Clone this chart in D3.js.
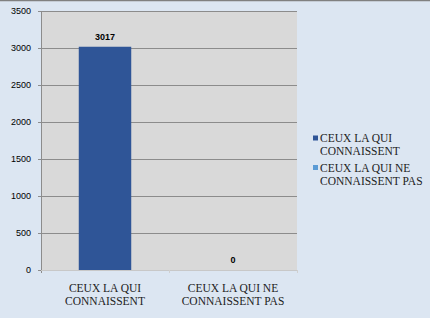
<!DOCTYPE html>
<html>
<head>
<meta charset="utf-8">
<script src="https://cdn.jsdelivr.net/npm/d3@7"></script>
<style>
  body { margin: 0; background: #dce6f2; }
  svg { display: block; }
</style>
</head>
<body>
<div id="chart"></div>
<script>
const categories = ["CEUX LA QUI|CONNAISSENT", "CEUX LA QUI NE|CONNAISSENT PAS"];
const values = [3017, 0];
const legendLabels = ["CEUX LA QUI|CONNAISSENT", "CEUX LA QUI NE|CONNAISSENT PAS"];
const legendColors = ["#2f5597", "#5b9bd5"];
const yTicks = [0, 500, 1000, 1500, 2000, 2500, 3000, 3500];

const serif = "'Liberation Serif', serif";
const sans = "'Liberation Sans', Arial, sans-serif";

const width = 430, height = 318;
const margin = { top: 11, right: 133, bottom: 48, left: 41 };
const boundedWidth = width - margin.left - margin.right;
const boundedHeight = height - margin.top - margin.bottom;

const wrapper = d3.select("#chart")
  .append("svg")
  .attr("width", width)
  .attr("height", height);

wrapper.append("rect")
  .attr("width", width).attr("height", height)
  .attr("fill", "#dce6f2");

wrapper.append("line")
  .attr("x1", 0).attr("x2", width)
  .attr("y1", 0.5).attr("y2", 0.5)
  .attr("stroke", "#808080").attr("stroke-width", 1.5);

const bounds = wrapper.append("g")
  .attr("transform", `translate(${margin.left},${margin.top})`);

const xScale = d3.scaleBand()
  .domain(categories)
  .range([0, boundedWidth]);

const yScale = d3.scaleLinear()
  .domain([0, 3500])
  .range([boundedHeight, 0]);

// plot area
bounds.append("rect")
  .attr("width", boundedWidth).attr("height", boundedHeight)
  .attr("fill", "#d9d9d9");

// gridlines
bounds.append("g")
  .selectAll("line")
  .data(yTicks.slice(1))
  .join("line")
  .attr("x1", 0).attr("x2", boundedWidth)
  .attr("y1", d => Math.round(yScale(d)) + 0.5)
  .attr("y2", d => Math.round(yScale(d)) + 0.5)
  .attr("stroke", "#8c8c8c");

// bars
const barWidth = xScale.bandwidth() * 0.41;
bounds.append("g")
  .selectAll("rect")
  .data(values)
  .join("rect")
  .attr("x", (d, i) => xScale(categories[i]) + (xScale.bandwidth() - barWidth) / 2)
  .attr("y", d => yScale(d))
  .attr("width", barWidth)
  .attr("height", d => boundedHeight - yScale(d))
  .attr("fill", (d, i) => legendColors[i]);

// value labels
bounds.append("g")
  .selectAll("text")
  .data(values)
  .join("text")
  .style("font-family", sans)
  .attr("x", (d, i) => xScale(categories[i]) + xScale.bandwidth() / 2)
  .attr("y", d => yScale(d) - 10)
  .attr("dy", "0.35em")
  .attr("text-anchor", "middle")
  .attr("font-weight", "bold")
  .attr("font-size", 9)
  .attr("fill", "#000")
  .text(d => d);

// y axis
const yAxisGenerator = d3.axisLeft(yScale)
  .tickValues(yTicks)
  .tickFormat(d3.format("d"))
  .tickSize(3)
  .tickPadding(7)
  .tickSizeOuter(0);

const yAxis = bounds.append("g")
  .call(yAxisGenerator);
yAxis.select(".domain").attr("stroke", "#8c8c8c");
yAxis.selectAll(".tick line").attr("stroke", "#8c8c8c");
yAxis.selectAll(".tick text")
  .style("font-family", sans)
  .attr("font-size", 9)
  .attr("fill", "#000");
yAxis.select(".domain").attr("d", `M0.5,0V${boundedHeight + 3}`);

// x axis
const xAxis = bounds.append("g")
  .attr("transform", `translate(0,${boundedHeight})`)
  .call(d3.axisBottom(xScale).tickSize(0).tickFormat(""));
xAxis.select(".domain").attr("stroke", "#c8c8c8").attr("d", `M0,0.5H${boundedWidth}`);

bounds.append("g")
  .selectAll("line")
  .data([1, 2])
  .join("line")
  .attr("x1", d => d * xScale.step() + 0.5)
  .attr("x2", d => d * xScale.step() + 0.5)
  .attr("y1", boundedHeight)
  .attr("y2", boundedHeight + 3)
  .attr("stroke", "#d0d0d0");

bounds.append("g")
  .selectAll("text")
  .data(categories)
  .join("text")
  .style("font-family", serif)
  .attr("text-anchor", "middle")
  .attr("font-size", 11.5)
  .attr("fill", "#222")
  .selectAll("tspan")
  .data(d => d.split("|").map(p => ({ cat: d, p })))
  .join("tspan")
  .attr("x", d => xScale(d.cat) + xScale.bandwidth() / 2)
  .attr("y", (d, i) => boundedHeight + 18 + i * 13)
  .attr("dy", "0.35em")
  .text(d => d.p);

// legend
const legendItems = wrapper.append("g")
  .attr("transform", "translate(313,0)")
  .selectAll("g")
  .data(legendLabels)
  .join("g")
  .attr("transform", (d, i) => `translate(0,${138 + i * 29.5})`);

legendItems.append("rect")
  .attr("x", 0).attr("y", -2.5)
  .attr("width", 5).attr("height", 5)
  .attr("fill", (d, i) => legendColors[i]);

legendItems.append("text")
  .style("font-family", serif)
  .attr("font-size", 11.5)
  .attr("fill", "#222")
  .selectAll("tspan")
  .data(d => d.split("|"))
  .join("tspan")
  .attr("x", 7)
  .attr("y", (p, i) => i * 13)
  .attr("dy", "0.35em")
  .text(p => p);
</script>
</body>
</html>
